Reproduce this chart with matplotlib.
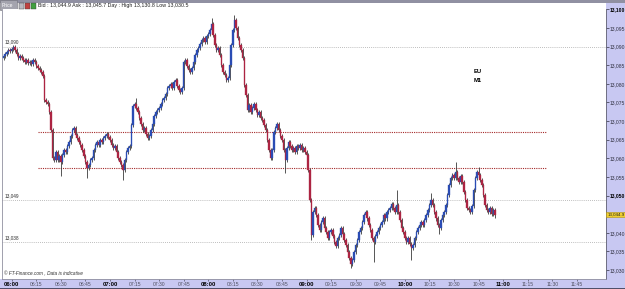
import matplotlib
matplotlib.use("Agg")
import matplotlib.pyplot as plt
from matplotlib.patches import Rectangle

# ---------------- data (1-minute candles, EU M1) ----------------
start_minute = -5          # first candle: 05:55 (minutes from 06:00)
first_open = 13087.0
closes = [
    13087.5, 13088.0, 13088.5, 13089.1, 13088.8, 13089.3,
    13089.9, 13089.1, 13088.0, 13086.9, 13087.5,
    13086.9, 13086.4, 13085.9, 13086.4, 13085.6,
    13085.9, 13085.3, 13086.4, 13085.9, 13084.8,
    13084.2, 13083.7, 13083.2, 13082.1,
    13075.6, 13075.1, 13074.6, 13072.4, 13067.6,
    13060.1, 13059.5, 13061.7, 13059.5, 13060.6, 13059.0,
    13060.9, 13062.2, 13061.7, 13063.3, 13064.4, 13066.0, 13067.6, 13068.1,
    13066.2, 13065.4, 13064.4, 13063.6, 13062.2, 13060.6, 13059.0, 13057.4,
    13058.2, 13059.5, 13060.1, 13062.2, 13063.6, 13064.4, 13063.6, 13064.9, 13064.4, 13065.4, 13066.0, 13066.5,
    13065.7, 13064.9, 13063.6, 13062.8, 13063.3, 13061.7, 13060.1, 13059.0, 13058.2, 13056.8,
    13059.5, 13061.7, 13062.8, 13063.3,
    13068.9, 13074.0, 13074.6, 13073.5,
    13072.4, 13070.8, 13069.2, 13067.6, 13068.1, 13066.5, 13065.4, 13066.0,
    13067.6, 13069.2, 13071.4, 13072.4, 13073.0, 13073.5, 13074.6, 13075.6,
    13076.2, 13077.3, 13078.9, 13079.4, 13080.0, 13078.9, 13080.5, 13081.0,
    13079.4, 13078.3, 13077.8, 13078.9,
    13085.9, 13086.4,
    13084.8, 13083.7, 13083.2, 13084.2,
    13085.9, 13087.7, 13089.1, 13089.6, 13090.7, 13091.8, 13092.3, 13091.2, 13092.8, 13093.4,
    13094.4, 13096.1, 13093.1, 13090.4, 13089.1, 13089.6, 13087.7, 13085.0, 13083.2, 13082.4,
    13081.0, 13081.6, 13085.0, 13090.4, 13094.4, 13097.1, 13095.0, 13092.3, 13090.4, 13089.1,
    13086.9, 13079.7, 13077.0, 13073.0, 13074.3, 13072.4, 13073.5, 13074.6, 13073.0, 13071.6,
    13072.4, 13070.8, 13070.3, 13068.9, 13067.6, 13064.9, 13062.2, 13060.1, 13062.2, 13067.0,
    13068.1, 13069.2, 13067.6, 13066.0, 13064.9, 13062.2, 13059.5, 13062.8, 13064.4, 13063.3,
    13062.2, 13062.8, 13061.7, 13063.3, 13062.8, 13063.6, 13062.2, 13062.8, 13061.7, 13060.9,
    13056.8, 13048.8, 13039.4, 13045.6, 13046.6, 13044.8, 13042.1, 13040.7, 13042.9, 13043.9,
    13041.3, 13040.2, 13038.6, 13040.2, 13040.7, 13039.1, 13037.5, 13036.4, 13038.6, 13039.4,
    13041.3, 13039.7, 13038.0, 13036.7, 13034.8, 13033.2, 13031.6, 13032.7, 13034.8, 13036.7,
    13038.0, 13040.2, 13041.3, 13042.9, 13044.8, 13045.6, 13043.9, 13042.1, 13040.7, 13038.6,
    13037.5, 13039.1, 13040.2, 13041.3, 13042.1, 13042.9, 13044.8, 13043.9, 13045.6, 13046.1,
    13046.6, 13047.7, 13046.6, 13045.6, 13047.4, 13045.6, 13043.4, 13041.3, 13040.2, 13038.6,
    13037.5, 13038.6, 13037.0, 13035.9, 13036.7, 13038.6, 13040.2, 13041.3, 13042.1, 13042.9,
    13042.1, 13043.4, 13044.8, 13046.1, 13047.4, 13048.8, 13047.4, 13045.6, 13043.9, 13042.1,
    13041.3, 13043.4, 13044.8, 13045.6, 13047.4, 13050.1, 13052.8, 13054.7, 13055.5, 13054.7,
    13056.3, 13054.7, 13053.6, 13055.2, 13053.6, 13051.0, 13048.8, 13046.6, 13046.1, 13045.6,
    13047.2, 13051.5, 13054.7, 13056.3, 13055.5, 13054.2, 13052.8, 13050.1, 13047.4, 13046.1,
    13045.6, 13046.6, 13045.0, 13046.1, 13044.9,
]
# notable wicks (minute index -> price)
wick_highs = {1: 13090.4, 76: 13076.2, 122: 13097.7, 136: 13098.5, 235: 13051.5,
              256: 13050.7, 271: 13059.0, 285: 13057.7}
wick_lows = {30: 13055.2, 46: 13054.7, 68: 13054.2, 167: 13056.1, 183: 13038.0,
             207: 13030.5, 221: 13032.1, 244: 13032.7, 261: 13039.7, 295: 13043.9}
default_wick = 0.6

y_ticks = [13030, 13035, 13040, 13050, 13055, 13060, 13065, 13070, 13075,
           13080, 13085, 13090, 13095, 13100]
y_bold = [13050, 13100]
x_tick_minutes = list(range(0, 346, 15))
x_tick_labels = ["06:00", "06:15", "06:30", "06:45", "07:00", "07:15", "07:30", "07:45",
                 "08:00", "08:15", "08:30", "08:45", "09:00", "09:15", "09:30", "09:45",
                 "10:00", "10:15", "10:30", "10:45", "11:00", "11:15", "11:30", "11:45"]
gray_levels = [13090.0, 13048.8, 13037.6]
gray_labels = ["13,090", "13,049", "13,038"]
red_levels = [13067.0, 13057.3]
red_span = (16, 326)
last_price = 13044.9
header = "Bid : 13,044.9 Ask : 13,045.7 Day : High 13,130.8 Low 13,030.5"

# ---------------- figure ----------------
W, H = 625, 289
fig = plt.figure(figsize=(W / 100, H / 100), dpi=100)
fig.patch.set_facecolor("white")
FONT = ["Liberation Sans", "DejaVu Sans"]


def fx(px):
    return px / W


def fy(py):
    return 1 - py / H


lav = "#c8c8f2"
# right and bottom bands
fig.patches.append(Rectangle((fx(606), fy(281)), fx(625) - fx(606), fy(3) - fy(281),
                             transform=fig.transFigure, facecolor=lav, edgecolor="none", zorder=-2))
fig.patches.append(Rectangle((0, 0), 1, fy(279), transform=fig.transFigure,
                             facecolor=lav, edgecolor="none", zorder=-2))
fig.patches.append(Rectangle((0, 0), 1, 1.5 / H, transform=fig.transFigure,
                             facecolor="#50506a", edgecolor="none", zorder=-1))
# header
fig.patches.append(Rectangle((0, fy(3)), 1, 3 / H, transform=fig.transFigure,
                             facecolor="#9090a2", edgecolor="none", zorder=-1))
fig.patches.append(Rectangle((0, fy(10)), fx(17), 10 / H, transform=fig.transFigure,
                             facecolor="#a4a4ae", edgecolor="#707078", lw=0.4, zorder=-1))
for x0, col in [(19, "#b8b8c0"), (25, "#c04040"), (31, "#40a040")]:
    fig.patches.append(Rectangle((fx(x0), fy(9)), 5 / W, 6 / H, transform=fig.transFigure,
                                 facecolor=col, edgecolor="#404040", lw=0.3, zorder=3))
fig.text(fx(1.5), fy(5.5), "Price", fontsize=3.6, color="white", va="center", family=FONT)
fig.text(fx(38), fy(5.5), header, fontsize=3.8, color="#202020", va="center", family=FONT)

ax = fig.add_axes([fx(2), fy(279), fx(606) - fx(2), fy(9.3) - fy(279)])
ax.set_facecolor("white")
ax.set_xlim(-5.92, 362.8)
ax.set_ylim(13027.6, 13100.0)

# candles
opens = [first_open] + closes[:-1]
xs = [start_minute + k for k in range(len(closes))]
for x, o, c in zip(xs, opens, closes):
    up = c >= o
    col = "#2a4cb4" if up else "#ac2442"
    hi = wick_highs.get(x, max(o, c) + default_wick)
    lo = wick_lows.get(x, min(o, c) - default_wick)
    ax.vlines(x, lo, hi, color="#3a3a3a", lw=0.6, zorder=2)
    body = max(abs(c - o), 0.2)
    ax.bar(x, body, bottom=min(o, c), width=0.9, color=col, edgecolor=col, lw=0.25, zorder=3)

# horizontal levels
for lvl, lab in zip(gray_levels, gray_labels):
    ax.axhline(lvl, color="#a8a8a8", lw=0.6, ls=(0, (1, 1.5)), zorder=1)
    ax.text(-4.5, lvl + 0.5, lab, fontsize=3.4, color="#303030", va="bottom", family=FONT)
for lvl in red_levels:
    ax.hlines(lvl, red_span[0], red_span[1], color="#a52a2a", lw=0.8, ls=(0, (1, 1)), zorder=1)

ax.text(284.7, 13083.4, "EU", fontsize=4.2, fontweight="bold", ha="center", va="center", family=FONT)
ax.text(284.7, 13081.0, "M1", fontsize=4.2, fontweight="bold", ha="center", va="center", family=FONT)
ax.text(-5, 13028.4, "© FT-Finance.com , Data is indicative", fontsize=3.4, style="italic",
        color="#303030", va="bottom", family=FONT)

# axes styling
ax.spines["top"].set_visible(False)
ax.spines["left"].set_color("#9090a0")
ax.spines["right"].set_color("#606070")
ax.spines["bottom"].set_color("#9090a0")
for s in ["left", "right", "bottom"]:
    ax.spines[s].set_linewidth(0.6)

ax.yaxis.tick_right()
ax.set_yticks(y_ticks)
ax.set_yticklabels([f"{v:,}" for v in y_ticks])
ax.tick_params(axis="y", direction="out", length=2, width=0.5, pad=0.8, labelsize=3.6,
               colors="#303040")
for t, v in zip(ax.get_yticklabels(), y_ticks):
    t.set_family(FONT)
    if v in y_bold:
        t.set_fontweight("bold")
        t.set_color("black")

ax.set_xticks(x_tick_minutes)
ax.set_xticklabels(x_tick_labels)
ax.tick_params(axis="x", direction="out", length=1.5, width=0.5, pad=1.0, labelsize=3.6,
               colors="#505060")
for t, lab in zip(ax.get_xticklabels(), x_tick_labels):
    t.set_family(FONT)
    if lab.endswith(":00"):
        t.set_fontweight("bold")
        t.set_color("black")
        t.set_fontsize(4.2)

# current price box
ax.text(1.002, (last_price - 13027.6) / (13100.0 - 13027.6), f"{last_price:,.1f}",
        transform=ax.transAxes, fontsize=3.2, color="#202020", va="center", ha="left",
        family=FONT, zorder=10, clip_on=False,
        bbox=dict(boxstyle="square,pad=0.2", facecolor="#f0d030", edgecolor="#b09010", lw=0.4))

fig.savefig("out.png", dpi=100)
